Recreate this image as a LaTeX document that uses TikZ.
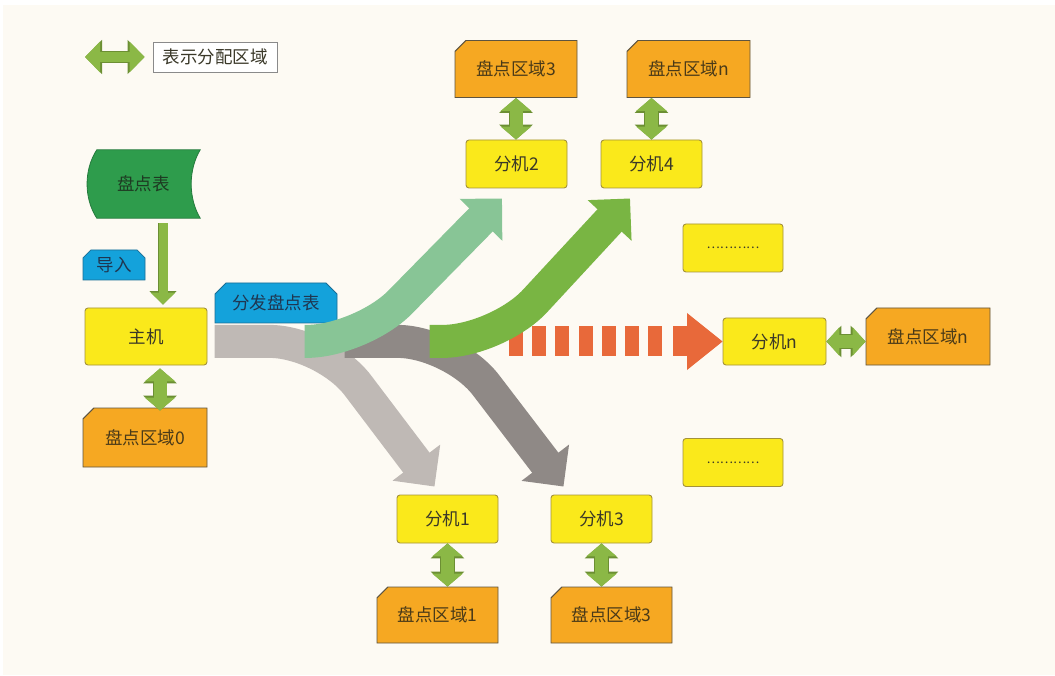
\documentclass[tikz,border=0pt]{standalone}
\usepackage{fontspec}
\newfontfamily\cjk{Noto Sans CJK SC}
\usetikzlibrary{arrows.meta,shapes.misc,calc}

\definecolor{bgcream}{HTML}{FDFAF3}
\definecolor{boxyellow}{HTML}{FAE91B}
\definecolor{yellowedge}{HTML}{A4923A}
\definecolor{boxorange}{HTML}{F6A822}
\definecolor{orangeedge}{HTML}{5E5440}
\definecolor{boxblue}{HTML}{14A2DB}
\definecolor{blueedge}{HTML}{1A6E95}
\definecolor{storegreen}{HTML}{2E9C4C}
\definecolor{storeedge}{HTML}{247A3C}
\definecolor{agreen}{HTML}{8BB846}
\definecolor{agreendark}{HTML}{6C8F33}
\definecolor{bandgraylt}{HTML}{BFB9B5}
\definecolor{bandgraydk}{HTML}{8F8986}
\definecolor{bandgreenlt}{HTML}{88C596}
\definecolor{bandgreen}{HTML}{79B543}
\definecolor{dashorange}{HTML}{E8693A}
\definecolor{legendedge}{HTML}{8A8A8A}
\definecolor{txtdark}{HTML}{3A3828}
\definecolor{txtbrown}{HTML}{4A3A18}
\definecolor{txtnavy}{HTML}{1F3650}
\definecolor{txtgreen}{HTML}{1E3A22}

\tikzset{
  ybox/.style={rectangle, rounded corners=3pt, fill=boxyellow, draw=yellowedge,
    line width=0.9pt, text=txtdark, minimum width=101pt, minimum height=48pt, inner sep=0pt},
  obox/.style={chamfered rectangle, chamfered rectangle corners=north west,
    chamfered rectangle xsep=8pt, fill=boxorange, draw=orangeedge, line width=0.9pt,
    text=txtbrown, minimum width=122pt, minimum height=57pt, inner sep=0pt},
  bbox/.style={chamfered rectangle, chamfered rectangle corners={north west,north east},
    fill=boxblue, draw=blueedge, line width=0.8pt, text=txtnavy, inner sep=0pt},
  band/.style={line width=33pt, rounded corners=55pt, -{Triangle[width=58pt,length=30pt]}},
  dblarrow/.style n args={5}{draw=agreen, line width=#1,
    {Triangle[width=#2,length=#3]}-{Triangle[width=#2,length=#3]},
    preaction={draw=agreendark, line width=#1+1.8pt,
      {Triangle[width=#4,length=#5]}-{Triangle[width=#4,length=#5]}}},
}

\begin{document}
\begin{tikzpicture}[x=1pt, y=-1pt, font=\cjk\fontsize{17.5}{20}\selectfont]
\useasboundingbox (0,0) rectangle (1055,676);
\fill[white] (0,0) rectangle (1055,676);
\fill[bgcream] (3,5) rectangle (1055,675);

% legend
\node[draw=legendedge, fill=white, line width=0.9pt, minimum width=124pt,
  minimum height=30pt, inner sep=0pt, text=txtdark] (lg) at (215,57) {表示分配区域};
\coordinate (lgl) at (85,57);
\draw[dblarrow={10pt}{30pt}{15pt}{33pt}{17pt}] (lgl) -- ([xshift=-8pt]lg.west);

% inventory sheet (data storage shape)
\path node[minimum width=113pt, minimum height=68pt, inner sep=0pt] (pdb) at (143.5,184) {};
\filldraw[fill=storegreen, draw=storeedge, line width=0.8pt]
  ([xshift=10pt]pdb.north west) -- (pdb.north east)
  .. controls +(-12pt,-20pt) and +(-12pt,20pt) .. (pdb.south east)
  -- ([xshift=10pt]pdb.south west)
  .. controls +(-13pt,20pt) and +(-13pt,-20pt) .. ([xshift=10pt]pdb.north west) -- cycle;
\node[text=txtgreen] (pdbt) at (pdb) {盘点表};

% host and its area
\node[ybox, minimum width=122pt, minimum height=57pt] (zj) at (146,336.5) {主机};
\node[obox, minimum width=124pt, minimum height=59pt] (pd0) at (145,437.5) {盘点区域0};
\node[bbox, chamfered rectangle xsep=5pt, minimum width=62pt, minimum height=30pt] (dr) at (114,265) {导入};
\node[bbox, chamfered rectangle xsep=9pt, minimum width=122pt, minimum height=40pt] (ffb) at (276,303) {分发盘点表};

\draw[draw=agreen, line width=9pt, -{Triangle[width=24pt,length=12pt]},
  preaction={draw=agreendark, line width=10.6pt, -{Triangle[width=26.5pt,length=13.5pt]}}]
  ([xshift=19.5pt,yshift=-5pt]pdb.south) -- ([xshift=17pt,yshift=3pt]zj.north);
\draw[dblarrow={13pt}{30pt}{13pt}{33pt}{15pt}]
  ([xshift=14pt,yshift=-3pt]zj.south) -- ([xshift=14pt,yshift=-3pt]zj.south |- pd0.north);

% branch machines and their areas
\node[obox] (pd3t) at (516,69) {盘点区域3};
\node[ybox] (fj2) at (516.5,164) {分机2};
\node[obox, minimum width=123pt] (pdnt) at (688.5,69) {盘点区域n};
\node[ybox] (fj4) at (651.5,164) {分机4};
\node[ybox, minimum width=100pt] (el1) at (733,248) {\fontsize{12.5}{14}\selectfont …………};
\node[ybox, minimum width=100pt] (el2) at (733,462.5) {\fontsize{12.5}{14}\selectfont …………};
\node[ybox, minimum width=103pt, minimum height=47pt] (fjn) at (774.5,341.5) {分机n};
\node[obox, minimum width=124pt] (pdnr) at (928,336.5) {盘点区域n};
\node[ybox] (fj1) at (447.5,519) {分机1};
\node[obox, minimum width=121pt, minimum height=56pt] (pd1) at (437.5,615) {盘点区域1};
\node[ybox] (fj3) at (601.5,519) {分机3};
\node[obox, minimum width=121pt, minimum height=56pt] (pd3b) at (611.5,615) {盘点区域3};

\draw[dblarrow={13pt}{30pt}{13pt}{33pt}{15pt}] (pd3t.south) -- (pd3t.south |- fj2.north);
\draw[dblarrow={13pt}{30pt}{13pt}{33pt}{15pt}] (fj4.north) -- (fj4.north |- pdnt.south);
\draw[dblarrow={13pt}{30pt}{13pt}{33pt}{15pt}] (fj1.south) -- (fj1.south |- pd1.north);
\draw[dblarrow={13pt}{30pt}{13pt}{33pt}{15pt}] (fj3.south) -- (fj3.south |- pd3b.north);
\draw[dblarrow={13pt}{28pt}{13pt}{31pt}{15pt}] (fjn.east) -- (fjn.east -| pdnr.west);

% dashed orange arrow towards the n-th branch
\foreach \i in {0,...,6}
  \fill[dashorange] ({509+23.17*\i},326) rectangle ++(14,30);
\fill[dashorange] (673,326) rectangle (689,356);
\coordinate (ohb) at (687,341.5);
\fill[dashorange] ([yshift=28.5pt]ohb) -- (fjn.west) -- ([yshift=-28.5pt]ohb) -- cycle;

% distribution bands
\coordinate (b0) at ([yshift=-18pt]ffb.south west);
\draw[band, draw=bandgraylt] (b0) -- ++(110,0) -- ([xshift=-13pt,yshift=8pt]fj1.north);
\draw[band, draw=bandgraydk] ([xshift=130pt]b0) -- ([xshift=238pt]b0) -- ([xshift=-38pt,yshift=8pt]fj3.north);
\draw[band, draw=bandgreenlt] ([xshift=90pt]b0) -- ([xshift=147pt]b0) -- ([xshift=-14.5pt,yshift=-10pt]fj2.south);
\draw[band, draw=bandgreen] ([xshift=215pt]b0) -- ([xshift=283pt]b0) -- ([xshift=-21.5pt,yshift=-10pt]fj4.south);
\end{tikzpicture}
\end{document}
